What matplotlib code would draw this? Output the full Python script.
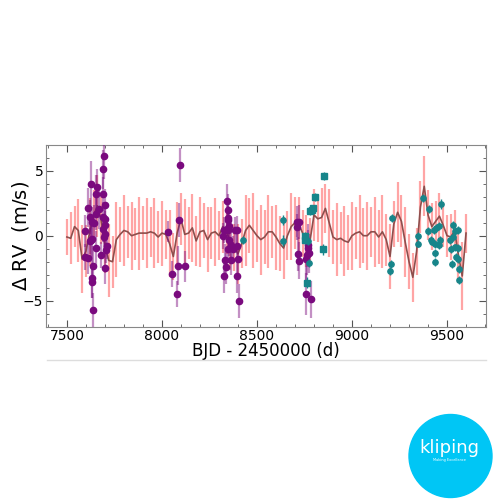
import matplotlib
matplotlib.use("Agg")
import matplotlib.pyplot as plt
from matplotlib.patches import Circle
from matplotlib.ticker import MultipleLocator

# ---- GP model (20 d grid) ----
model_t = list(range(7500, 9601, 20))
model_rv = [-0.1, -0.2, 0.7, 0.4, -1.8, -1.2, 0.3, 1.5, 2.3, 1.2,
            -0.7, -1.9, -2.0, -0.3, 0.1, 0.4, 0.3, 0.0, 0.1, 0.2,
            0.2, 0.2, 0.3, 0.2, -0.1, 0.2, 0.1, -0.6, -1.6, 0.2,
            1.3, 0.1, 0.2, 0.6, -0.4, 0.3, 0.4, -0.3, 0.2, 0.3,
            0.0, 0.7, 0.3, -0.5, -0.9, -1.4, -0.6, 0.4, 0.8, 0.4,
            0.0, -0.3, -0.1, 0.3, 0.3, -0.1, -0.6, -0.95, 0.0, 0.7,
            1.0, 0.9, 0.2, -0.4, -0.3, 1.6, 1.3, 1.4, 2.1, 1.0,
            -0.1, -0.3, -0.2, -0.4, -0.5, 0.0, 0.2, 0.3, 0.0, 0.0,
            0.3, 0.3, -0.1, 0.3, -0.3, -1.6, 0.9, 1.8, 1.1, -0.5,
            -2.0, -3.2, -1.2, 2.2, 3.8, 1.6, 0.7, 1.1, 1.5, 0.8,
            0.0, -0.1, 0.4, -1.5, -3.1, 0.2]
model_err = [1.4, 2.0, 1.6, 2.4, 2.6, 2.0, 2.6, 2.0, 2.4, 1.8,
             2.2, 2.8, 2.0, 2.9, 2.1, 2.7, 2.0, 2.6, 2.0, 2.8,
             2.1, 2.7, 1.9, 2.7, 2.0, 2.5, 1.9, 2.6, 1.8, 2.4,
             2.0, 2.7, 2.0, 2.6, 1.9, 2.7, 2.1, 2.5, 2.0, 2.6,
             1.9, 2.0, 1.7, 2.1, 1.8, 2.3, 1.9, 2.7, 2.1, 2.9,
             2.0, 2.7, 2.1, 2.8, 2.0, 2.5, 2.1, 2.4, 1.9, 2.6,
             2.0, 2.1, 1.8, 2.0, 1.7, 2.0, 1.8, 2.3, 1.9, 2.6,
             2.1, 2.8, 2.0, 2.7, 2.1, 2.6, 2.0, 2.8, 2.1, 2.6,
             1.9, 2.7, 2.1, 2.8, 2.0, 2.5, 1.8, 2.3, 2.0, 2.7,
             2.1, 1.9, 1.8, 2.0, 2.3, 1.9, 1.8, 1.6, 1.8, 1.7,
             1.6, 1.8, 1.6, 2.1, 2.6, 1.5]

# ---- instrument 1 (purple) ----
p_t = [7593, 7595, 7609, 7612, 7619, 7619, 7626, 7626, 7630, 7630,
       7630, 7633, 7635, 7635, 7644, 7651, 7654, 7654, 7658, 7670,
       7679, 7688, 7688, 7688, 7691, 7695, 7696, 7698, 7698, 7700,
       7700, 7703, 7705, 7709,
       8033, 8054, 8077, 8083, 8089, 8093, 8119,
       8321, 8326, 8328, 8332, 8337, 8340, 8340, 8345, 8347, 8347,
       8347, 8347, 8353, 8353, 8362, 8362, 8375, 8384, 8393, 8396,
       8396, 8401, 8405,
       8709, 8709, 8716, 8722, 8722, 8758, 8758, 8765, 8768, 8768,
       8772, 8783]
p_rv = [-1.6, 0.36, 2.15, -1.74, 1.41, -0.41, 3.95, -0.33, 1.03, -3.28,
        -3.58, -0.26, -2.33, -5.74, 1.0, 3.18, 1.67, -0.92, 3.72, 2.05,
        -1.48, 5.13, 1.41, 0.52, 3.23, -0.12, 6.15, 1.26, -2.5, 2.36,
        0.13, 0.8, -1.1, -0.79,
        0.31, -2.97, -4.5, -2.33, 1.21, 5.42, -2.36,
        -0.02, -3.1, 0.44, -1.87, -2.38, 2.69, 0.49, 1.21, 1.98, 1.34,
        0.44, -1.02, 0.75, -0.33, -0.72, -1.85, -1.05, 0.44, -3.1, 0.44,
        -0.79, -1.77, -5.0,
        1.08, 0.69, -1.43, 1.08, -1.92, -4.5, -1.79, -1.5, -0.97, -0.72,
        -1.35, -4.9]
p_err = [1.0, 1.2, 1.5, 1.2, 1.3, 1.0, 1.8, 1.5, 1.2, 1.5,
         1.2, 1.5, 1.5, 1.3, 1.4, 1.5, 1.2, 1.3, 1.4, 1.5,
         1.0, 1.5, 1.2, 1.0, 1.3, 1.0, 1.8, 1.0, 1.2, 1.2,
         1.0, 1.1, 1.0, 1.0,
         0.8, 1.0, 1.0, 1.5, 1.3, 1.3, 1.2,
         1.0, 1.3, 1.0, 1.2, 1.3, 1.3, 1.0, 1.1, 1.2, 1.0,
         1.0, 1.1, 1.0, 1.2, 1.3, 1.2, 1.0, 1.0, 1.3, 1.1,
         1.0, 1.2, 1.3,
         1.2, 1.0, 1.3, 1.3, 1.4, 1.6, 1.8, 1.5, 1.4, 1.6,
         1.5, 1.4]

# ---- instrument 2 (teal circles) ----
c_t = [8428, 8639, 8639, 8768, 8772, 9200, 9207, 9212, 9346, 9349,
       9372, 9398, 9403, 9417, 9422, 9432, 9435, 9435, 9439, 9441,
       9456, 9460, 9465, 9470, 9517, 9519, 9528, 9530, 9531, 9540,
       9544, 9549, 9556, 9558, 9560, 9563, 9565]
c_rv = [-0.33, 1.2, -0.38, -0.41, -2.12, -2.69, -2.2, 1.34, 0.0, -0.6,
        2.92, 0.36, 2.08, -0.33, -0.45, 0.44, -1.33, -2.02, -0.64, 0.57,
        -0.74, 0.72, -0.36, 2.46, -0.31, -1.03, -2.15, 0.85, -0.13, 0.33,
        -0.9, -1.6, 0.44, -1.83, -0.97, -2.58, -3.43]
c_err = [0.3, 0.4, 0.4, 0.3, 0.3, 0.3, 0.3, 0.3, 0.3, 0.3,
         0.3, 0.3, 0.3, 0.3, 0.3, 0.3, 0.3, 0.3, 0.3, 0.3,
         0.3, 0.3, 0.3, 0.4, 0.3, 0.3, 0.3, 0.3, 0.3, 0.3,
         0.3, 0.3, 0.3, 0.3, 0.3, 0.3, 0.3]

# ---- instrument 3 (teal squares) ----
s_t = [8753, 8753, 8762, 8781, 8789, 8795, 8807, 8846, 8853]
s_rv = [0.0, -0.33, -3.6, 1.92, 1.98, 2.1, 2.98, -1.05, 4.57]
s_err = [0.3, 0.3, 0.4, 0.3, 0.3, 0.3, 0.3, 0.4, 0.3]

purple = '#7a0a7e'
purple_bar = (0.48, 0.04, 0.49, 0.45)
teal = '#17858a'

fig = plt.figure(figsize=(5, 5), dpi=100)
ax = fig.add_axes([0.092, 0.3466, 0.88, 0.364])

ax.errorbar(model_t, model_rv, yerr=model_err, fmt='none', ecolor='#ff6a6a',
            elinewidth=1.6, alpha=0.6, zorder=1)
ax.plot(model_t, model_rv, color='#8e4e4c', lw=1.2, zorder=2)

ax.errorbar(p_t, p_rv, yerr=p_err, fmt='o', color=purple, ms=4.5,
            ecolor=purple_bar, elinewidth=1.6, zorder=3)
ax.errorbar(c_t, c_rv, yerr=c_err, fmt='o', color=teal, ms=3.8,
            ecolor=teal, elinewidth=1, zorder=4)
ax.errorbar(s_t, s_rv, yerr=s_err, fmt='s', color=teal, ms=4.8,
            ecolor=teal, elinewidth=1, zorder=4)

ax.set_xlim(7390, 9705)
ax.set_ylim(-7, 7)
ax.xaxis.set_major_locator(MultipleLocator(500))
ax.xaxis.set_minor_locator(MultipleLocator(100))
ax.yaxis.set_major_locator(MultipleLocator(5))
ax.yaxis.set_minor_locator(MultipleLocator(1))
ax.tick_params(which='both', direction='in', top=True, right=True,
               labelsize=10, color='#555555', pad=2)
ax.tick_params(which='major', length=5)
ax.tick_params(which='minor', length=2.5)
for s in ax.spines.values():
    s.set_color('#888888')

ax.set_xlabel('BJD - 2450000 (d)', fontsize=12, labelpad=-1)
ax.set_ylabel(r'$\Delta$ RV  (m/s)', fontsize=14)
ax.yaxis.set_label_coords(-0.035, 0.5)

# thin grey rule under the plot
fig.add_artist(plt.Line2D([0.093, 0.972], [0.28, 0.28], color='#dddddd', lw=1))

# logo
logo = Circle((0.901, 0.088), 0.083, transform=fig.transFigure,
              color='#00c6f5', zorder=5)
fig.add_artist(logo)
fig.text(0.899, 0.104, 'kliping', color='white', fontsize=13,
         ha='center', va='center', zorder=6)
fig.text(0.899, 0.079, 'Making Excellence', color='white', fontsize=2.5,
         ha='center', va='center', zorder=6)

fig.savefig('out.png', dpi=100)
